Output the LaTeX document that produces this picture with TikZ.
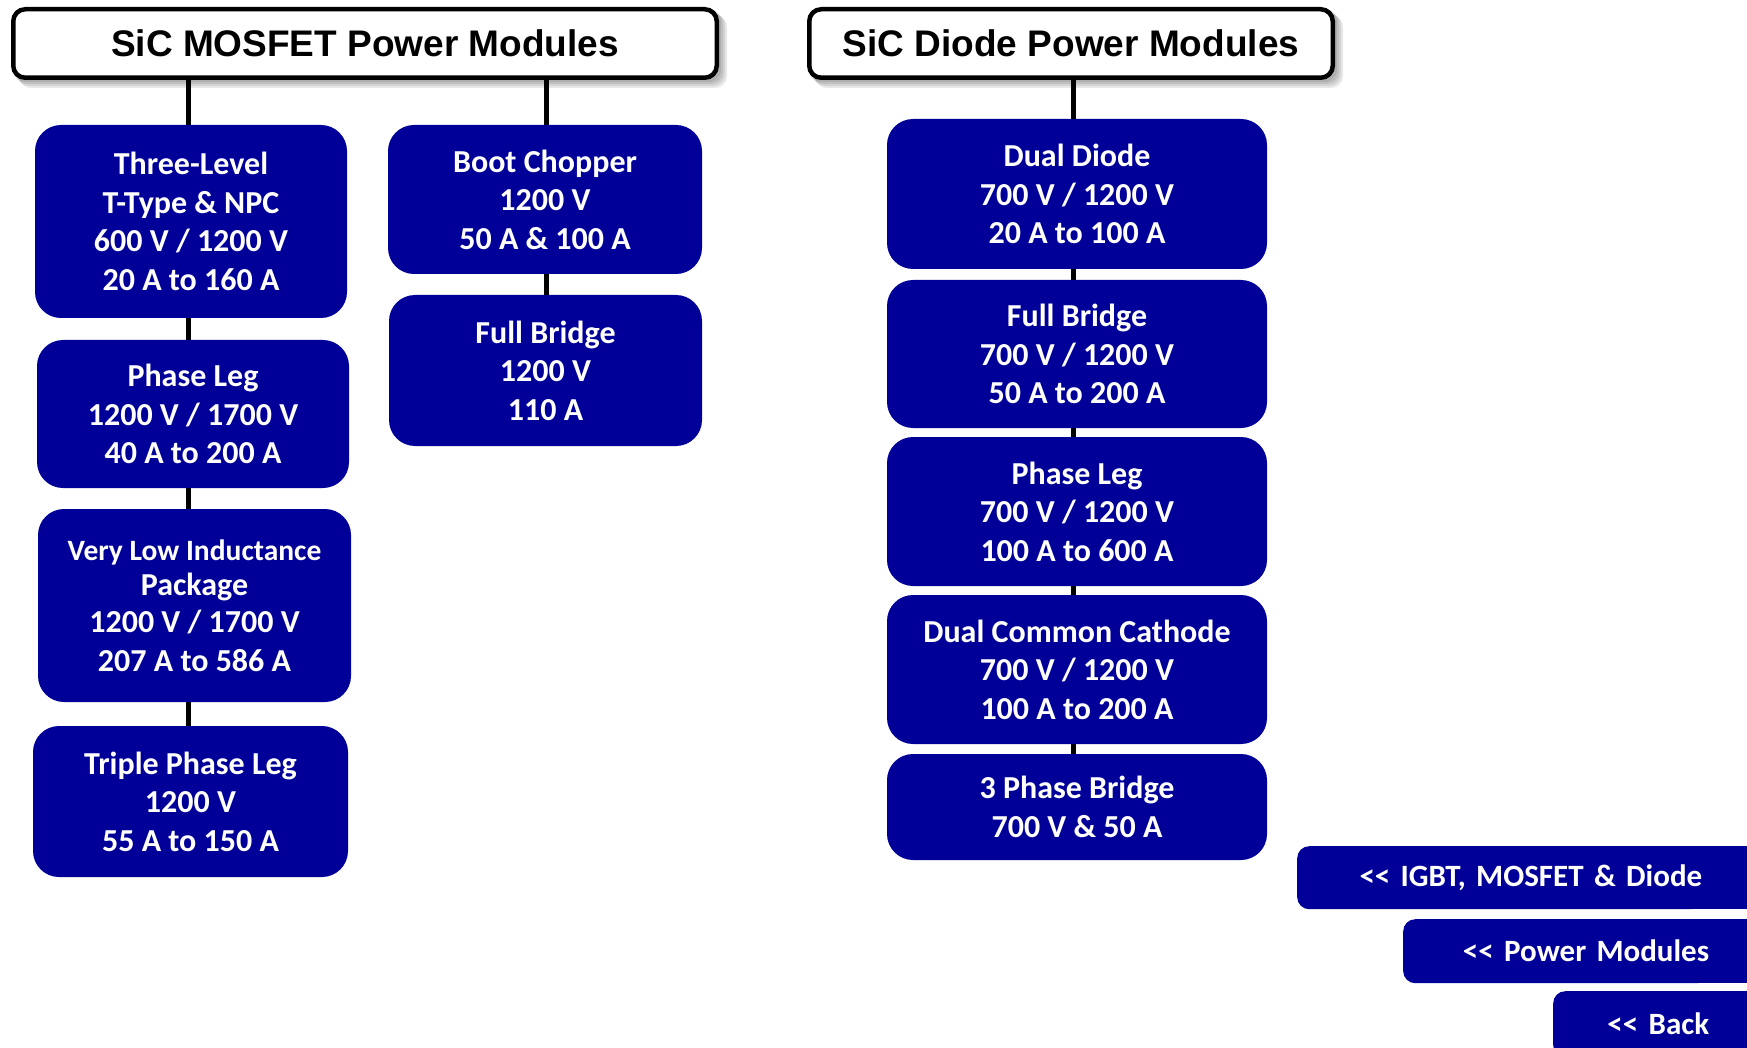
\documentclass[tikz,border=0pt]{standalone}
\usepackage{fontspec}
\setmainfont{Carlito}
\newfontfamily\hdrfont{Liberation Sans}
\usetikzlibrary{backgrounds}
\definecolor{modblue}{RGB}{0,0,153}
\begin{document}
\begin{tikzpicture}[x=1pt,y=-1pt,
  hdr/.style={draw=black, line width=4.5pt, fill=white, rounded corners=12pt, font=\hdrfont\bfseries\fontsize{37}{44}\selectfont, inner sep=0pt},
  mod/.style={fill=modblue, rounded corners=26pt, text=white, font=\bfseries\fontsize{32}{38.5}\selectfont, align=center, inner sep=0pt},
  btn/.style={fill=modblue, rounded corners=12pt, text=white, font=\bfseries\fontsize{31}{36}\selectfont, align=right, inner sep=0pt, anchor=north west},
  conn/.style={line width=5pt, draw=black},
  shadowbox/.style={fill=black, fill opacity=0.09, rounded corners=12pt}
]
\useasboundingbox (0,0) rectangle (1747,1048);
\clip (0,0) rectangle (1747,1048);

% headers
\node[hdr, minimum width=703.5pt, minimum height=68.5pt] (h1) at (365,43.5) {SiC MOSFET Power Modules};
\node[hdr, minimum width=523.5pt, minimum height=68.5pt] (h2) at (1071,43.5) {SiC Diode Power Modules};

% MOSFET column 1
\node[mod, minimum width=312pt, minimum height=193pt] (tl) at (191,221.5) {Three-Level\\T-Type \& NPC\\600 V / 1200 V\\20 A to 160 A};
\node[mod, minimum width=312pt, minimum height=148pt] (pl) at (193,414) {Phase Leg\\1200 V / 1700 V\\40 A to 200 A};
\node[mod, minimum width=313pt, minimum height=193pt] (vl) at (194.5,605.5) {{\fontsize{29.5}{35}\selectfont Very Low Inductance}\\[-3pt]Package\\[-1.5pt]1200 V / 1700 V\\207 A to 586 A};
\node[mod, minimum width=315pt, minimum height=151pt] (tp) at (190.5,801.5) {Triple Phase Leg\\1200 V\\55 A to 150 A};

% MOSFET column 2
\node[mod, minimum width=314pt, minimum height=149pt] (bc) at (545,199.5) {Boot Chopper\\1200 V\\50 A \& 100 A};
\node[mod, minimum width=313pt, minimum height=151pt] (fbm) at (545.5,370.5) {Full Bridge\\1200 V\\110 A};

% Diode column
\node[mod, minimum width=380pt, minimum height=150pt] (dd) at (1077,194) {Dual Diode\\700 V / 1200 V\\20 A to 100 A};
\node[mod, minimum width=380pt, minimum height=148pt] (fbd) at (1077,354) {Full Bridge\\700 V / 1200 V\\50 A to 200 A};
\node[mod, minimum width=380pt, minimum height=149pt] (pld) at (1077,511.5) {Phase Leg\\700 V / 1200 V\\100 A to 600 A};
\node[mod, minimum width=380pt, minimum height=149pt] (dcc) at (1077,669.5) {Dual Common Cathode\\700 V / 1200 V\\100 A to 200 A};
\node[mod, minimum width=380pt, minimum height=106pt] (tpb) at (1077,807) {3 Phase Bridge\\700 V \& 50 A};

% navigation buttons
\node[btn, text width=405pt, minimum height=63pt] (b1) at (1297,846) {<\kern0pt< IGBT, MOSFET \& Diode};
\node[btn, text width=306pt, minimum height=64pt] (b2) at (1403,919) {<\kern0pt< Power Modules};
\node[btn, text width=156pt, minimum height=66pt] (b3) at (1553,991) {<\kern0pt< Back};

\coordinate (xa) at (188,0);
\coordinate (xb) at (546,0);
\coordinate (xc) at (1073,0);

\begin{pgfonlayer}{background}
  \foreach \s in {2,4,6,8} {
    \fill[shadowbox] ([shift={(\s,\s)}]h1.south west) rectangle ([shift={(\s,\s)}]h1.north east);
    \fill[shadowbox] ([shift={(\s,\s)}]h2.south west) rectangle ([shift={(\s,\s)}]h2.north east);
  }
  \foreach \b in {b1,b2,b3} {
    \fill[modblue] ([xshift=-30pt]\b.north east) rectangle ([xshift=60pt]\b.south east);
  }
  \draw[conn] (h1.south -| xa) -- (tl.north -| xa);
  \draw[conn] (tl.south -| xa) -- (pl.north -| xa);
  \draw[conn] (pl.south -| xa) -- (vl.north -| xa);
  \draw[conn] (vl.south -| xa) -- (tp.north -| xa);
  \draw[conn] (h1.south -| xb) -- (bc.north -| xb);
  \draw[conn] (bc.south -| xb) -- (fbm.north -| xb);
  \draw[conn] (h2.south -| xc) -- (dd.north -| xc);
  \draw[conn] (dd.south -| xc) -- (fbd.north -| xc);
  \draw[conn] (fbd.south -| xc) -- (pld.north -| xc);
  \draw[conn] (pld.south -| xc) -- (dcc.north -| xc);
  \draw[conn] (dcc.south -| xc) -- (tpb.north -| xc);
\end{pgfonlayer}
\end{tikzpicture}
\end{document}
